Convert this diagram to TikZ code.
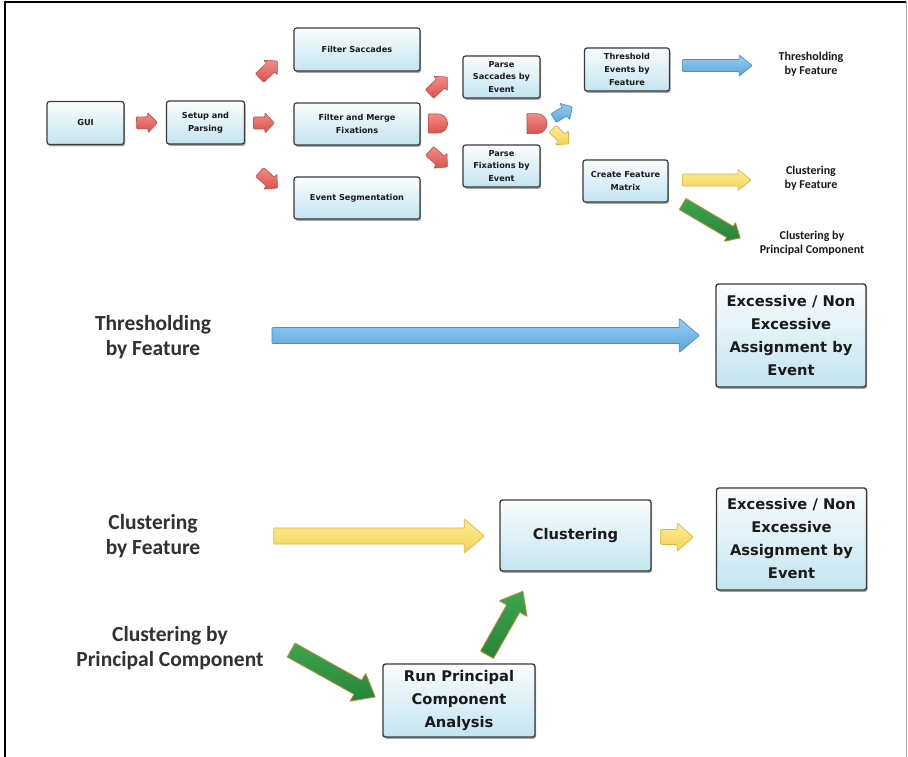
\documentclass[tikz,border=0pt]{standalone}
\usepackage{fontspec}
\usetikzlibrary{calc,shadows}
\newfontfamily\vfont{DejaVu Sans}
\newfontfamily\cfont{Carlito}

\definecolor{boxtop}{HTML}{FAFDFE}
\definecolor{boxbot}{HTML}{C3E4F0}
\definecolor{boxline}{HTML}{3A3A3A}
\definecolor{txt}{HTML}{1A1A1A}
\definecolor{redtop}{HTML}{F08C85}
\definecolor{redbot}{HTML}{DC524E}
\definecolor{redline}{HTML}{C04A46}
\definecolor{bluetop}{HTML}{96CDF2}
\definecolor{bluebot}{HTML}{5BA5DB}
\definecolor{blueline}{HTML}{4E8EC4}
\definecolor{yeltop}{HTML}{FCEC96}
\definecolor{yelbot}{HTML}{F5D258}
\definecolor{yelline}{HTML}{E2B344}
\definecolor{grntop}{HTML}{3DA64C}
\definecolor{grnbot}{HTML}{27843A}
\definecolor{grnline}{HTML}{C98A45}

% block arrow: #1 style, #2 tail, #3 tip, #4 half shaft, #5 half head, #6 head length
\newcommand\blockarrow[6]{%
  \coordinate (ba-s) at #2;
  \coordinate (ba-e) at #3;
  \coordinate (ba-n) at ($(ba-e)!#6!(ba-s)$);
  \path[#1] ($(ba-s)!#4!90:(ba-e)$) -- ($(ba-n)!#4!90:(ba-e)$)
    -- ($(ba-n)!#5!90:(ba-e)$) -- (ba-e) -- ($(ba-n)!#5!-90:(ba-e)$)
    -- ($(ba-n)!#4!-90:(ba-e)$) -- ($(ba-s)!#4!-90:(ba-e)$) -- cycle;
}

\tikzset{
  box/.style={draw=boxline, line width=1.2pt, rounded corners=2.5pt,
    top color=boxtop, bottom color=boxbot, text=txt, align=center, inner sep=0pt,
    drop shadow={shadow xshift=1.2pt, shadow yshift=-1.8pt, opacity=0.35, fill=black}},
  smallbox/.style={box, font=\vfont\bfseries\fontsize{8.2}{12.8}\selectfont},
  bigbox/.style={box, line width=1.4pt, font=\vfont\bfseries\fontsize{14.7}{23}\selectfont},
  smalllabel/.style={align=center, text=txt, font=\cfont\bfseries\fontsize{12}{14}\selectfont},
  biglabel/.style={align=center, text=txt!90, font=\cfont\bfseries\fontsize{21.5}{24.5}\selectfont},
  redarrow/.style={draw=redline, line width=0.6pt, top color=redtop, bottom color=redbot, rounded corners=0.8pt},
  bluearrow/.style={draw=blueline, line width=0.7pt, top color=bluetop, bottom color=bluebot, rounded corners=0.8pt},
  yelarrow/.style={draw=yelline, line width=0.7pt, top color=yeltop, bottom color=yelbot, rounded corners=0.8pt},
  grnarrow/.style={draw=grnline, line width=0.8pt, top color=grntop, bottom color=grnbot, rounded corners=0.5pt},
  dshape/.style={draw=redline, line width=0.6pt, top color=redtop, bottom color=redbot},
}

\begin{document}
\begin{tikzpicture}[x=1pt, y=-1pt]
\useasboundingbox (0,0) rectangle (908,757);
\fill[white] (0,0) rectangle (908,757);

% page frame
\draw[line width=2pt, black] (5,757) -- (5,2.5) -- (906,2.5);
\draw[line width=1pt, gray!70] (906,2.5) -- (906,757);

% ---------- pipeline overview ----------
\node[smallbox, minimum width=77pt, minimum height=43pt] (gui) at (85.5,123) {GUI};
\node[smallbox, minimum width=78pt, minimum height=43pt] (setup) at (205.5,122.5) {Setup and\\Parsing};
\node[smallbox, minimum width=126pt, minimum height=43pt] (fsac) at (357,49.5) {Filter Saccades};
\node[smallbox, minimum width=126pt, minimum height=42pt] (fmerge) at (357,124) {Filter and Merge\\Fixations};
\node[smallbox, minimum width=126pt, minimum height=42pt] (evseg) at (357,198) {Event Segmentation};
\node[smallbox, minimum width=77pt, minimum height=42pt] (psac) at (501.5,77) {Parse\\Saccades by\\Event};
\node[smallbox, minimum width=77pt, minimum height=42pt] (pfix) at (501.5,166) {Parse\\Fixations by\\Event};
\node[smallbox, minimum width=85pt, minimum height=43pt] (thr) at (627,69.5) {Threshold\\Events by\\Feature};
\node[smallbox, minimum width=85pt, minimum height=42pt] (cfm) at (625.5,181) {Create Feature\\Matrix};

\node[smalllabel] (lthr) at (811,64) {Thresholding\\by Feature};
\node[smalllabel] (lclf) at (811,178) {Clustering\\by Feature};
\node[smalllabel] (lcpc) at (812,243) {Clustering by\\Principal Component};

% red flow arrows
\blockarrow{redarrow}{($(gui.east)+(12,0)$)}{($(setup.west)+(-8.5,0)$)}{6pt}{10pt}{9.5pt}
\blockarrow{redarrow}{($(setup.east)+(8.5,0.5)$)}{($(fmerge.west)+(-19,-1)$)}{6pt}{10pt}{9.5pt}
\blockarrow{redarrow}{($(setup.east)+(14.5,-44.5)$)}{($(fsac.west)+(-16,11.5)$)}{6pt}{10pt}{9.5pt}
\blockarrow{redarrow}{($(setup.east)+(14.5,49.5)$)}{($(evseg.west)+(-16,-10)$)}{6pt}{10pt}{9.5pt}
\blockarrow{redarrow}{($(fmerge.east)+(9,-30)$)}{($(psac.west)+(-15,0)$)}{6pt}{10pt}{9.5pt}
\blockarrow{redarrow}{($(fmerge.east)+(9,27)$)}{($(pfix.west)+(-15,1)$)}{6pt}{10pt}{9.5pt}

% merge symbols
\path[dshape] ($(fmerge.east)+(8,-10)$) coordinate (d1) -- ++(9.5,0) arc[start angle=-90, end angle=90, radius=9.5] -- ++(-9.5,0) -- cycle;
\path[dshape] ($(psac.south)+(25.5,15)$) coordinate (d2) -- ++(10,0) arc[start angle=-90, end angle=90, radius=10] -- ++(-10,0) -- cycle;

% branch arrows
\blockarrow{bluearrow}{($(psac.east)+(13,41)$)}{($(thr.west)+(-11.5,37.5)$)}{5pt}{9.5pt}{9pt}
\blockarrow{yelarrow}{($(pfix.east)+(12,-37)$)}{($(cfm.west)+(-14,-37)$)}{5pt}{9.5pt}{9pt}

\blockarrow{bluearrow}{($(thr.east)+(12.5,-4)$)}{($(lthr.west)+(-23,1.5)$)}{6pt}{10.5pt}{13pt}
\blockarrow{yelarrow}{($(cfm.east)+(14,-1)$)}{($(lclf.west)+(-30,2)$)}{6pt}{10.5pt}{13pt}
\blockarrow{grnarrow}{($(cfm.east)+(14,23)$)}{($(lcpc.west)+(-16,-5)$)}{6.5pt}{11pt}{12pt}

% ---------- thresholding ----------
\node[biglabel] (bthr) at (153,337) {Thresholding\\by Feature};
\node[bigbox, minimum width=150pt, minimum height=103pt] (exc1) at (791,335.5) {Excessive / Non\\Excessive\\Assignment by\\Event};
\blockarrow{bluearrow}{(272,335.5)}{($(exc1.west)+(-16,0)$)}{8pt}{17pt}{20pt}

% ---------- clustering ----------
\node[biglabel] (bclf) at (153,536) {Clustering\\by Feature};
\node[biglabel] (bcpc) at (170,648) {Clustering by\\Principal Component};
\node[bigbox, minimum width=151pt, minimum height=71pt] (clus) at (575.5,535.5) {Clustering};
\node[bigbox, minimum width=150pt, minimum height=102pt] (exc2) at (791.5,539) {Excessive / Non\\Excessive\\Assignment by\\Event};
\node[bigbox, minimum width=152pt, minimum height=73pt] (pca) at (459,700.5) {Run Principal\\Component\\Analysis};

\blockarrow{yelarrow}{($(bclf.east)+(70,0)$)}{($(clus.west)+(-15,0.5)$)}{8pt}{17pt}{20pt}
\blockarrow{yelarrow}{($(clus.east)+(9,1.5)$)}{($(exc2.west)+(-22.5,-2)$)}{7.5pt}{14pt}{16pt}
\blockarrow{grnarrow}{($(bcpc.east)+(24,2)$)}{($(pca.west)+(-7,-3.5)$)}{8pt}{16pt}{20pt}
\blockarrow{grnarrow}{($(pca.north)+(28,-8.5)$)}{($(clus.south)+(-52.5,19.5)$)}{7.5pt}{16pt}{20pt}

\end{tikzpicture}
\end{document}
